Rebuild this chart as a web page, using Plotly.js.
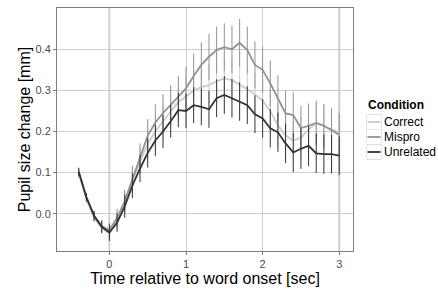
<!DOCTYPE html>
<html>
<head>
<meta charset="utf-8">
<script src="https://cdn.plot.ly/plotly-3.0.1.min.js"></script>
<style>html,body{margin:0;padding:0;background:#fff;}#chart{width:438px;height:289px;}</style>
</head>
<body>
<div id="chart"></div>
<script>
// Time relative to word onset (sec)
var time = [-0.4,-0.3,-0.2,-0.1,0.0,0.1,0.2,0.3,0.4,0.5,0.6,0.7,0.8,0.9,1.0,1.1,1.2,1.3,1.4,1.5,1.6,1.7,1.8,1.9,2.0,2.1,2.2,2.3,2.4,2.5,2.6,2.7,2.8,2.9,3.0];

var correct = [0.098,0.035,-0.010,-0.035,-0.048,-0.015,0.030,0.080,0.128,0.170,0.200,0.225,0.248,0.272,0.285,0.300,0.308,0.313,0.322,0.329,0.325,0.315,0.303,0.290,0.275,0.250,0.215,0.190,0.178,0.185,0.205,0.220,0.213,0.205,0.198];
var correctErr = [0.010,0.010,0.012,0.014,0.018,0.022,0.026,0.030,0.034,0.038,0.040,0.042,0.044,0.046,0.047,0.048,0.049,0.050,0.050,0.050,0.051,0.051,0.051,0.051,0.052,0.052,0.052,0.052,0.052,0.052,0.051,0.051,0.050,0.050,0.050];

var mispro = [0.100,0.040,-0.005,-0.030,-0.040,-0.010,0.030,0.085,0.135,0.190,0.222,0.245,0.265,0.285,0.305,0.335,0.362,0.382,0.398,0.405,0.400,0.416,0.398,0.362,0.350,0.317,0.281,0.244,0.240,0.208,0.214,0.221,0.214,0.204,0.192];
var misproErr = [0.010,0.010,0.012,0.015,0.018,0.022,0.028,0.032,0.036,0.040,0.044,0.046,0.048,0.050,0.052,0.054,0.055,0.056,0.057,0.058,0.058,0.058,0.057,0.057,0.056,0.056,0.056,0.055,0.055,0.055,0.054,0.054,0.053,0.053,0.052];

var unrelated = [0.102,0.040,-0.005,-0.032,-0.046,-0.022,0.018,0.068,0.110,0.148,0.178,0.200,0.225,0.252,0.250,0.264,0.260,0.254,0.281,0.289,0.281,0.273,0.264,0.242,0.232,0.208,0.198,0.171,0.149,0.158,0.165,0.147,0.145,0.145,0.141];
var unrelatedErr = [0.010,0.010,0.012,0.015,0.020,0.022,0.028,0.030,0.033,0.036,0.038,0.040,0.040,0.042,0.042,0.044,0.045,0.045,0.046,0.046,0.047,0.047,0.046,0.046,0.047,0.047,0.048,0.048,0.048,0.049,0.049,0.048,0.048,0.047,0.047];

var names = ["Correct","Mispro","Unrelated"];
var colors = ["#cccccc","#929292","#333333"];
var legendTitle = "Condition";
var xTicks = [0,1,2,3];
var yTicks = [0,0.1,0.2,0.3,0.4];

function series(name, y, err, color) {
  return {
    x: time, y: y, name: name, type: "scatter", mode: "lines",
    line: {color: color, width: 1.8},
    error_y: {type: "data", array: err, visible: true, color: color, thickness: 1, width: 0},
    showlegend: false
  };
}

var data = [
  series(names[0], correct, correctErr, colors[0]),
  series(names[1], mispro, misproErr, colors[1]),
  series(names[2], unrelated, unrelatedErr, colors[2])
];

var FONT = "Liberation Sans, Arial, Helvetica, sans-serif";

var axisCommon = {
  showline: true, mirror: true, linecolor: "#7f7f7f", linewidth: 1,
  showgrid: true, gridcolor: "#cfcfcf", gridwidth: 1,
  zeroline: false, automargin: false,
  ticks: "outside", ticklen: 3, tickcolor: "#7f7f7f", tickwidth: 1,
  tickfont: {family: FONT, size: 11, color: "#4d4d4d"}
};

// plot area in pixels (used to place the ggplot-style legend keys)
var W = 438, H = 289, ML = 57, MR = 85, MT = 8, MB = 38;
var pw = W - ML - MR, ph = H - MT - MB;
function px(xp) { return (xp - ML) / pw; }
function py(yp) { return (H - MB - yp) / ph; }

var shapes = [
  {type: "line", xref: "x", yref: "paper", x0: 0, x1: 0, y0: 0, y1: 1, line: {color: "#a8a8a8", width: 1.5}, layer: "below"},
  {type: "line", xref: "x", yref: "paper", x0: 3, x1: 3, y0: 0, y1: 1, line: {color: "#d4d4d4", width: 2.2}, layer: "below"}
];
var annotations = [
  {xref: "paper", yref: "paper", x: px(366), y: py(105), xanchor: "left", yanchor: "middle",
   text: "<b>" + legendTitle + "</b>", showarrow: false, font: {family: FONT, size: 12, color: "#000"}}
];
var keyTop = 114.5, keyH = 15;
for (var i = 0; i < names.length; i++) {
  var y0 = keyTop + i * keyH, y1 = y0 + keyH, yc = (y0 + y1) / 2;
  shapes.push({type: "rect", xref: "paper", yref: "paper", x0: px(366.5), x1: px(381.5), y0: py(y1), y1: py(y0),
    line: {color: "#e3e3e3", width: 1}, fillcolor: "#ffffff"});
  shapes.push({type: "line", xref: "paper", yref: "paper", x0: px(367.5), x1: px(380.5), y0: py(yc), y1: py(yc),
    line: {color: colors[i], width: 1.8}});
  annotations.push({xref: "paper", yref: "paper", x: px(382), y: py(yc), xanchor: "left", yanchor: "middle",
    text: names[i], showarrow: false, font: {family: FONT, size: 12, color: "#000"}});
}

var layout = {
  width: W, height: H,
  margin: {l: ML, r: MR, t: MT, b: MB},
  paper_bgcolor: "#ffffff", plot_bgcolor: "#ffffff",
  font: {family: FONT, color: "#000"},
  xaxis: Object.assign({}, axisCommon, {
    range: [-0.684, 3.18], tickvals: xTicks,
    title: {text: "Time relative to word onset [sec]", font: {family: FONT, size: 16, color: "#000"}, standoff: 1}
  }),
  yaxis: Object.assign({}, axisCommon, {
    range: [-0.0908, 0.5005], tickvals: yTicks, tickformat: ".1f",
    title: {text: "Pupil size change [mm]", font: {family: FONT, size: 16, color: "#000"}, standoff: 0}
  }),
  shapes: shapes,
  annotations: annotations,
  showlegend: false
};

Plotly.newPlot("chart", data, layout, {displayModeBar: false, staticPlot: true});
</script>
</body>
</html>
